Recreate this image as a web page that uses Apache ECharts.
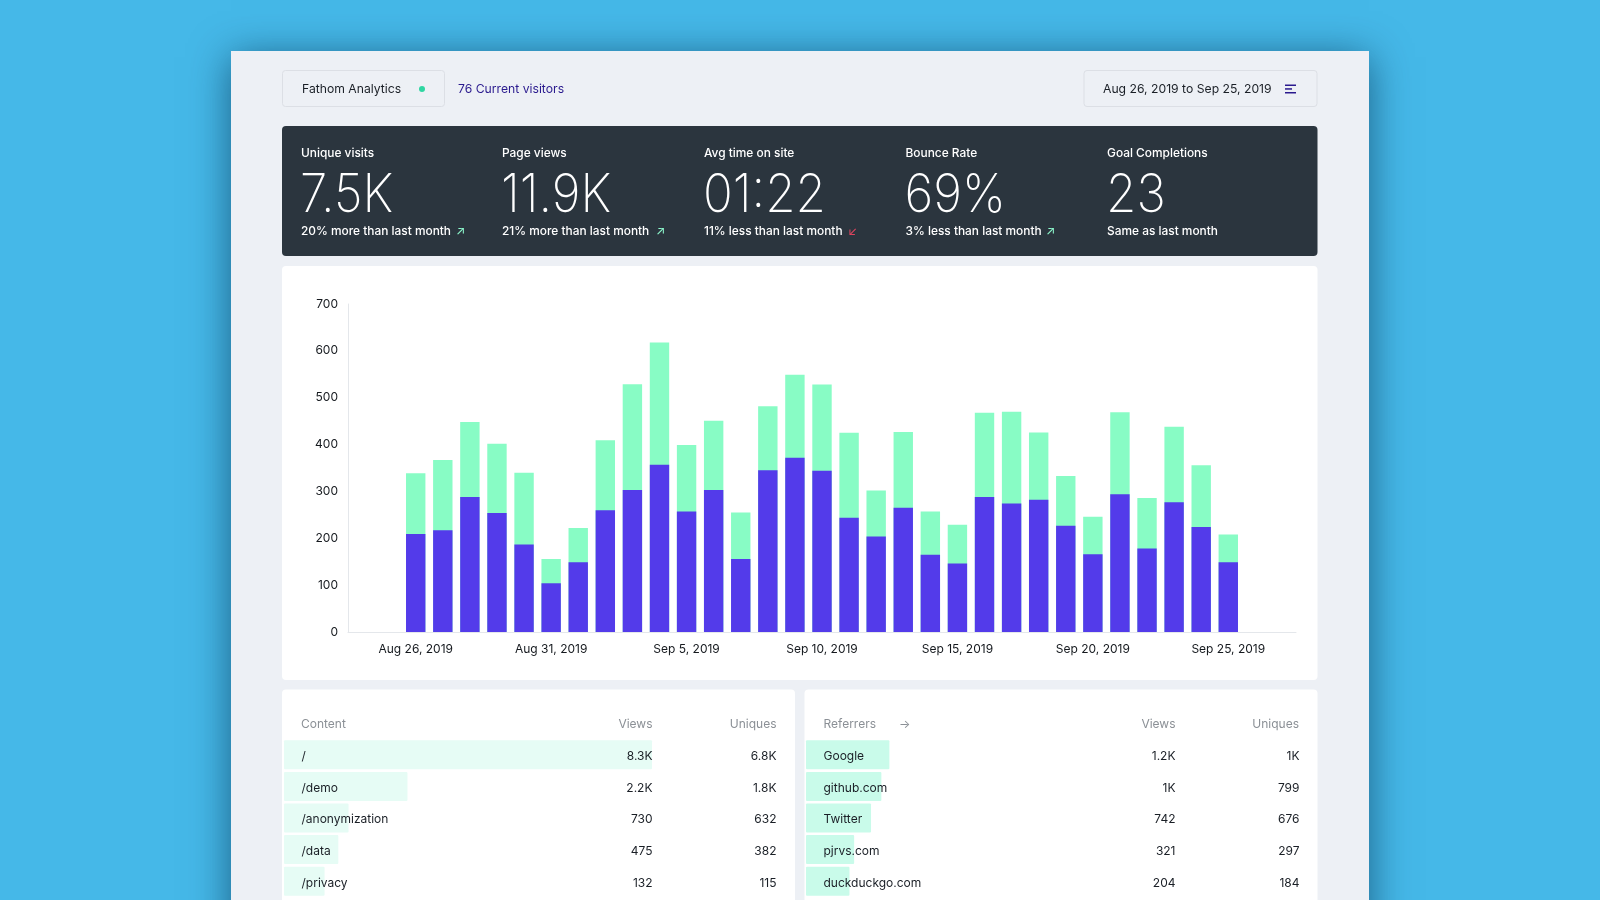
<!DOCTYPE html>
<html>
<head>
<meta charset="utf-8">
<title>Fathom Analytics</title>
<script src="https://cdn.jsdelivr.net/npm/echarts@6/dist/echarts.min.js"></script>
<style>
    html, body { margin: 0; padding: 0; background: #45b8e8; }
    #main { width: 1600px; height: 900px; }
</style>
</head>
<body>
<div id="main"></div>
<script>
// 每日数据，前后各留两个空位
var dates = ['Aug 24, 2019', 'Aug 25, 2019', 'Aug 26, 2019', 'Aug 27, 2019', 'Aug 28, 2019', 'Aug 29, 2019', 'Aug 30, 2019',
    'Aug 31, 2019', 'Sep 1, 2019', 'Sep 2, 2019', 'Sep 3, 2019', 'Sep 4, 2019', 'Sep 5, 2019', 'Sep 6, 2019', 'Sep 7, 2019',
    'Sep 8, 2019', 'Sep 9, 2019', 'Sep 10, 2019', 'Sep 11, 2019', 'Sep 12, 2019', 'Sep 13, 2019', 'Sep 14, 2019', 'Sep 15, 2019',
    'Sep 16, 2019', 'Sep 17, 2019', 'Sep 18, 2019', 'Sep 19, 2019', 'Sep 20, 2019', 'Sep 21, 2019', 'Sep 22, 2019', 'Sep 23, 2019',
    'Sep 24, 2019', 'Sep 25, 2019', 'Sep 26, 2019', 'Sep 27, 2019'];
var pageViews = [null, null, 339, 367, 448, 402, 340, 156, 222, 409, 529, 618, 399, 451, 255, 482, 549,
    528, 425, 302, 427, 257, 229, 468, 470, 426, 333, 246, 469, 286, 438, 356, 208, null, null];
var uniqueVisits = [null, null, 209, 217, 288, 254, 187, 104, 149, 260, 303, 357, 257, 303, 156, 345, 372,
    344, 244, 204, 265, 165, 146, 288, 274, 282, 227, 166, 294, 178, 277, 224, 149, null, null];

// 顶部指标
var kpiTitles = ['Unique visits', 'Page views', 'Avg time on site', 'Bounce Rate', 'Goal Completions'];
var kpiValues = ['7.5K', '11.9K', '01:22', '69%', '23'];
var kpiNotes = ['20% more than last month', '21% more than last month', '11% less than last month', '3% less than last month', 'Same as last month'];
var kpiArrows = ['↗', '↗', '↙', '↗', ''];

// 表格
var contentNames = ['/', '/demo', '/anonymization', '/data', '/privacy'];
var contentViews = [8300, 2200, 730, 475, 132];
var contentUniques = [6800, 1800, 632, 382, 115];
var referrerNames = ['Google', 'github.com', 'Twitter', 'pjrvs.com', 'duckduckgo.com'];
var referrerViews = [1200, 1000, 742, 321, 204];
var referrerUniques = [1000, 799, 676, 297, 184];

var FONT = 'Inter, "Noto Sans", sans-serif';
var ROW_AXIS_MIN = -880; // 条形左侧留出的缩进
var ROW_AXIS_MAX = 8300;

function fmt(v) {
    return v >= 1000 ? (v / 1000) + 'K' : String(v);
}

function text(x, y, str, color, size, opts) {
    opts = opts || {};
    var align = opts.align || 'left';
    return {
        type: 'text',
        x: x,
        y: y,
        z: 10,
        scaleX: opts.scaleX || 1,
        style: {
            text: str,
            fill: color,
            fontFamily: opts.family || FONT,
            fontSize: size,
            fontWeight: opts.weight || 400,
            align: align,
            textAlign: align,
            verticalAlign: 'middle',
            textVerticalAlign: 'middle'
        }
    };
}

function box(x, y, w, h, fill, opts) {
    opts = opts || {};
    return {
        type: 'rect',
        z: opts.z === undefined ? -5 : opts.z,
        shape: { x: x, y: y, width: w, height: h, r: opts.r || 0 },
        style: {
            fill: fill,
            stroke: opts.stroke || null,
            lineWidth: opts.stroke ? 1 : 0,
            shadowBlur: opts.blur || 0,
            shadowOffsetY: opts.offsetY || 0,
            shadowColor: opts.shadow || 'transparent'
        }
    };
}

var graphics = [
    box(231, 51, 1138, 900, '#edf0f5', { blur: 38, offsetY: 6, shadow: 'rgba(0,40,70,0.62)', z: -9 }),
    box(282.5, 70.5, 162, 36, '#edf0f5', { r: 3, stroke: '#dcdfe5' }),
    text(302, 89.5, 'Fathom Analytics', '#1a1f26', 12.2),
    { type: 'circle', z: 10, shape: { cx: 422, cy: 89, r: 3 }, style: { fill: '#2fd6a2' } },
    text(458, 89.5, '76 Current visitors', '#2a1a8e', 12.2),
    box(1084, 70.5, 233, 36, '#edf0f5', { r: 3, stroke: '#dcdfe5' }),
    text(1103, 89.5, 'Aug 26, 2019 to Sep 25, 2019', '#1a1f26', 12.2),
    box(1285, 84.5, 11, 1.5, '#2a1a8e', { z: 10 }),
    box(1285, 88.2, 7, 1.5, '#2a1a8e', { z: 10 }),
    box(1285, 92, 11, 1.5, '#2a1a8e', { z: 10 }),
    box(282, 126, 1035.5, 130, '#2b353e', { r: 4 }),
    box(282, 266, 1035.5, 414, '#ffffff', { r: 4 }),
    box(282, 689.5, 513, 260, '#ffffff', { r: 4 }),
    box(804.5, 689.5, 513, 260, '#ffffff', { r: 4 }),
    text(301, 724, 'Content', '#8b9096', 12),
    text(652.5, 724, 'Views', '#8b9096', 12, { align: 'right' }),
    text(776.5, 724, 'Uniques', '#8b9096', 12, { align: 'right' }),
    text(823.5, 724, 'Referrers', '#8b9096', 12),
    text(899, 724, '→', '#8b9096', 12),
    text(1175.5, 724, 'Views', '#8b9096', 12, { align: 'right' }),
    text(1299, 724, 'Uniques', '#8b9096', 12, { align: 'right' })
];

var kpiX = [301, 502, 704, 905.5, 1107];
var arrowX = [456, 656, 848, 1046];
var arrowColors = ['#8ffcd0', '#8ffcd0', '#e0455f', '#8ffcd0'];
kpiTitles.forEach(function (t, i) {
    graphics.push(text(kpiX[i], 153, t, '#ffffff', 11.9, { weight: 500 }));
    graphics.push(text(kpiX[i] - 1, 196.5, kpiValues[i], '#ffffff', 53, { weight: 200, scaleX: 0.93 }));
    graphics.push(text(kpiX[i], 231.5, kpiNotes[i], '#ffffff', 11.9, { weight: 500 }));
    if (kpiArrows[i]) {
        graphics.push(text(arrowX[i], 231, kpiArrows[i], arrowColors[i], 12));
    }
});

// 表格行：条形 + 三列文字
function tableSeries(gridIndex, names, views, uniques, barColor, viewsOffset) {
    return {
        type: 'custom',
        xAxisIndex: gridIndex,
        yAxisIndex: gridIndex,
        silent: true,
        clip: false,
        encode: { x: 0, y: 1 },
        data: views.map(function (v, i) { return [v, i]; }),
        renderItem: function (params, api) {
            var i = params.dataIndex;
            var start = api.coord([ROW_AXIS_MIN, i]);
            var end = api.coord([api.value(0), i]);
            var right = api.coord([ROW_AXIS_MAX, i])[0];
            var h = api.size([0, 1])[1] - 2.6;
            var rowText = function (x, str, align) {
                return {
                    type: 'text',
                    z2: 5,
                    style: {
                        x: x,
                        y: start[1] + 1.7,
                        text: str,
                        fill: '#1a1f26',
                        fontFamily: FONT,
                        fontSize: 12,
                        align: align,
                        verticalAlign: 'middle'
                    }
                };
            };
            return {
                type: 'group',
                children: [
                    {
                        type: 'rect',
                        shape: { x: start[0], y: start[1] - h / 2, width: end[0] - start[0], height: h, r: 1 },
                        style: { fill: barColor }
                    },
                    rowText(start[0] + 17.5, names[i], 'left'),
                    rowText(right + viewsOffset, fmt(views[i]), 'right'),
                    rowText(right + viewsOffset + 124, fmt(uniques[i]), 'right')
                ]
            };
        }
    };
}

function hiddenX(gridIndex) {
    return { gridIndex: gridIndex, type: 'value', min: ROW_AXIS_MIN, max: ROW_AXIS_MAX, show: false };
}

function hiddenY(gridIndex, names) {
    return { gridIndex: gridIndex, type: 'category', inverse: true, data: names, show: false };
}

var myChart = echarts.init(document.getElementById('main'));

var option = {
    animation: false,
    backgroundColor: '#45b8e8',
    textStyle: { fontFamily: FONT },
    graphic: { elements: graphics },
    grid: [
        { left: 348, top: 304, width: 948, height: 328, containLabel: false },
        { left: 284, top: 739, width: 368, height: 158 },
        { left: 806, top: 739, width: 368, height: 158 }
    ],
    xAxis: [
        {
            type: 'category',
            data: dates,
            axisTick: { show: false },
            axisLine: { lineStyle: { color: '#e4e7eb' } },
            axisLabel: {
                color: '#15191e',
                fontSize: 12,
                margin: 11,
                interval: function (index) { return (index - 2) % 5 === 0; }
            }
        },
        hiddenX(1),
        hiddenX(2)
    ],
    yAxis: [
        {
            type: 'value',
            min: 0,
            max: 700,
            interval: 100,
            splitLine: { show: false },
            axisTick: { show: false },
            axisLine: { show: true, lineStyle: { color: '#e4e7eb' } },
            axisLabel: { color: '#15191e', fontSize: 12, margin: 10, padding: [1.5, 0, 0, 0] }
        },
        hiddenY(1, contentNames),
        hiddenY(2, referrerNames)
    ],
    series: [
        {
            name: 'Page views',
            type: 'bar',
            data: pageViews,
            barWidth: 19.4,
            barGap: '-100%',
            itemStyle: { color: '#88fcc5' }
        },
        {
            name: 'Unique visits',
            type: 'bar',
            data: uniqueVisits,
            barWidth: 19.4,
            barGap: '-100%',
            itemStyle: { color: '#533bea' }
        },
        tableSeries(1, contentNames, contentViews, contentUniques, '#e6fcf5', 0.5),
        tableSeries(2, referrerNames, referrerViews, referrerUniques, '#c9fbea', 1.5)
    ]
};

myChart.setOption(option);
</script>
</body>
</html>
